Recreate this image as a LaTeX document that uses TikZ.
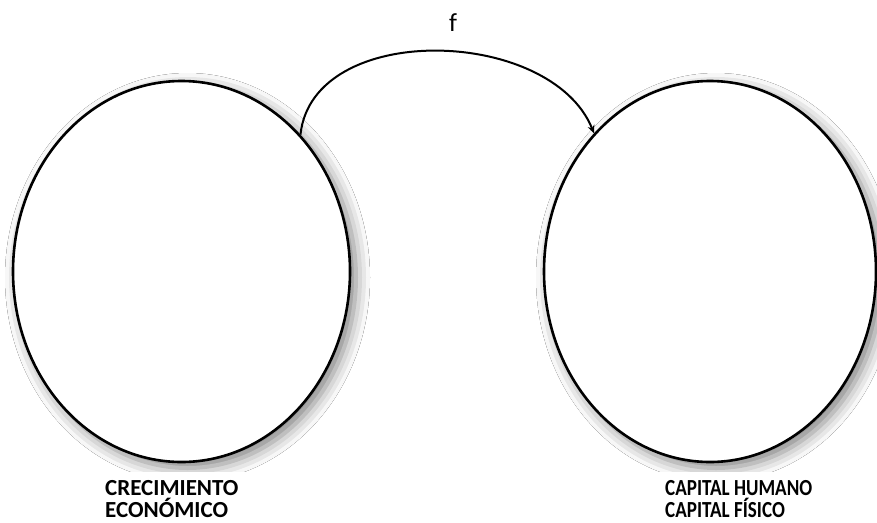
\documentclass[tikz,border=0pt]{standalone}
\usepackage{fontspec}
\setmainfont{Carlito}
\newfontfamily\narrowfont[FakeStretch=0.83]{Carlito}
\usetikzlibrary{shapes.geometric,shadows.blur,arrows.meta}
\begin{document}
\begin{tikzpicture}[x=1pt,y=-1pt,
  blob/.style={ellipse,draw=black,line width=2.6pt,fill=white,minimum width=337pt,minimum height=381pt,inner sep=0pt,
    blur shadow={shadow xshift=6pt,shadow yshift=-6pt,shadow blur radius=14pt,shadow opacity=50}},
  lbl/.style={fill=white,font=\bfseries\fontsize{23}{22.5}\selectfont,align=left,inner xsep=12pt,inner ysep=8pt,anchor=north west},
  conn/.style={line width=2pt,-{Stealth[length=8pt,width=7pt]}}]
\useasboundingbox[fill=white] (0,0) rectangle (877,522);
\node[blob] (ce) at (181.5,271.5) {};
\node[blob,minimum width=332pt] (cap) at (710,271.5) {};
\draw[conn] (ce.49) to[out=84,in=112] (cap.130);
\node[font=\fontsize{26}{28}\selectfont] (f) at (453,23) {f};
\node[lbl] (lce) at (93,472) {CRECIMIENTO\\ECONÓMICO};
\node[lbl,font=\narrowfont\bfseries\fontsize{23}{22.5}\selectfont] (lcap) at (653,472) {CAPITAL HUMANO\\CAPITAL FÍSICO};
\end{tikzpicture}
\end{document}
